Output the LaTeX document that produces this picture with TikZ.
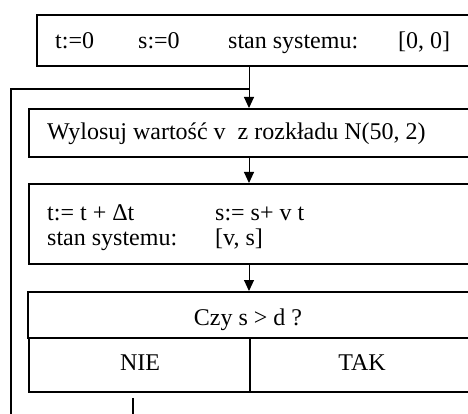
\documentclass[tikz,border=0pt]{standalone}
\usepackage{fontspec}
\setmainfont{Liberation Serif}
\usetikzlibrary{arrows.meta}
\tikzset{
  box/.style={draw, line width=1.8pt, anchor=north west, inner sep=0pt},
  txt/.style={anchor=base west, inner sep=0pt, font=\fontsize{24}{28}\selectfont},
  ctxt/.style={anchor=base, inner sep=0pt, font=\fontsize{24}{28}\selectfont},
  arr/.style={line width=1pt, -{Triangle[width=10pt,length=11pt]}},
  loop/.style={line width=1.8pt},
}
\begin{document}
\begin{tikzpicture}[x=1pt,y=-1pt]
\useasboundingbox (0,0) rectangle (468,414);
\clip (0,0) rectangle (468,414);
% boxes
\node[box, minimum width=444pt, minimum height=51pt] (b1) at (36,14) {};
\node[box, minimum width=452pt, minimum height=48pt] (b2) at (28,108) {};
\node[box, minimum width=452pt, minimum height=80pt] (b3) at (28,183) {};
\node[box, minimum width=453pt, minimum height=46pt] (b4) at (27,291) {};
\node[box, minimum width=221pt, minimum height=54pt] (nie) at (28,337) {};
\node[box, minimum width=231pt, minimum height=54pt] (tak) at (249,337) {};
% texts
\node[txt] (t1) at (55,49) {t:=0};
\node[txt] (t2) at (138,49) {s:=0};
\node[txt] (t3) at (228,49) {stan systemu:};
\node[txt] (t4) at (398,49) {[0, 0]};
\node[txt] (t5) at (47,140) {Wylosuj wartość v\ \ z rozkładu N(50, 2)};
\node[txt] (t6) at (47,220) {t:= t + Δt};
\node[txt] (t7) at (215,220) {s:= s+ v t};
\node[txt] (t8) at (47,245) {stan systemu:};
\node[txt] (t9) at (215,245) {[v, s]};
\node[ctxt] (t10) at (248,325) {Czy s > d ?};
\node[ctxt] (t11) at (140,370) {NIE};
\node[ctxt] (t12) at (362,370) {TAK};
% connectors
\coordinate (ax) at (249,0);
\coordinate (lx) at (11,0);
\coordinate (ly) at (0,89);
\coordinate (nx) at (133,0);
\coordinate (bot) at (0,420);
\draw[arr] (b1.south -| ax) -- (b2.north -| ax);
\draw[arr] (b2.south -| ax) -- (b3.north -| ax);
\draw[arr] (b3.south -| ax) -- (b4.north -| ax);
\draw[loop] (lx |- bot) -- (lx |- ly) -- (ax |- ly);
\draw[loop] ([yshift=-5pt]nie.south -| nx) -- (nx |- bot);
\end{tikzpicture}
\end{document}
